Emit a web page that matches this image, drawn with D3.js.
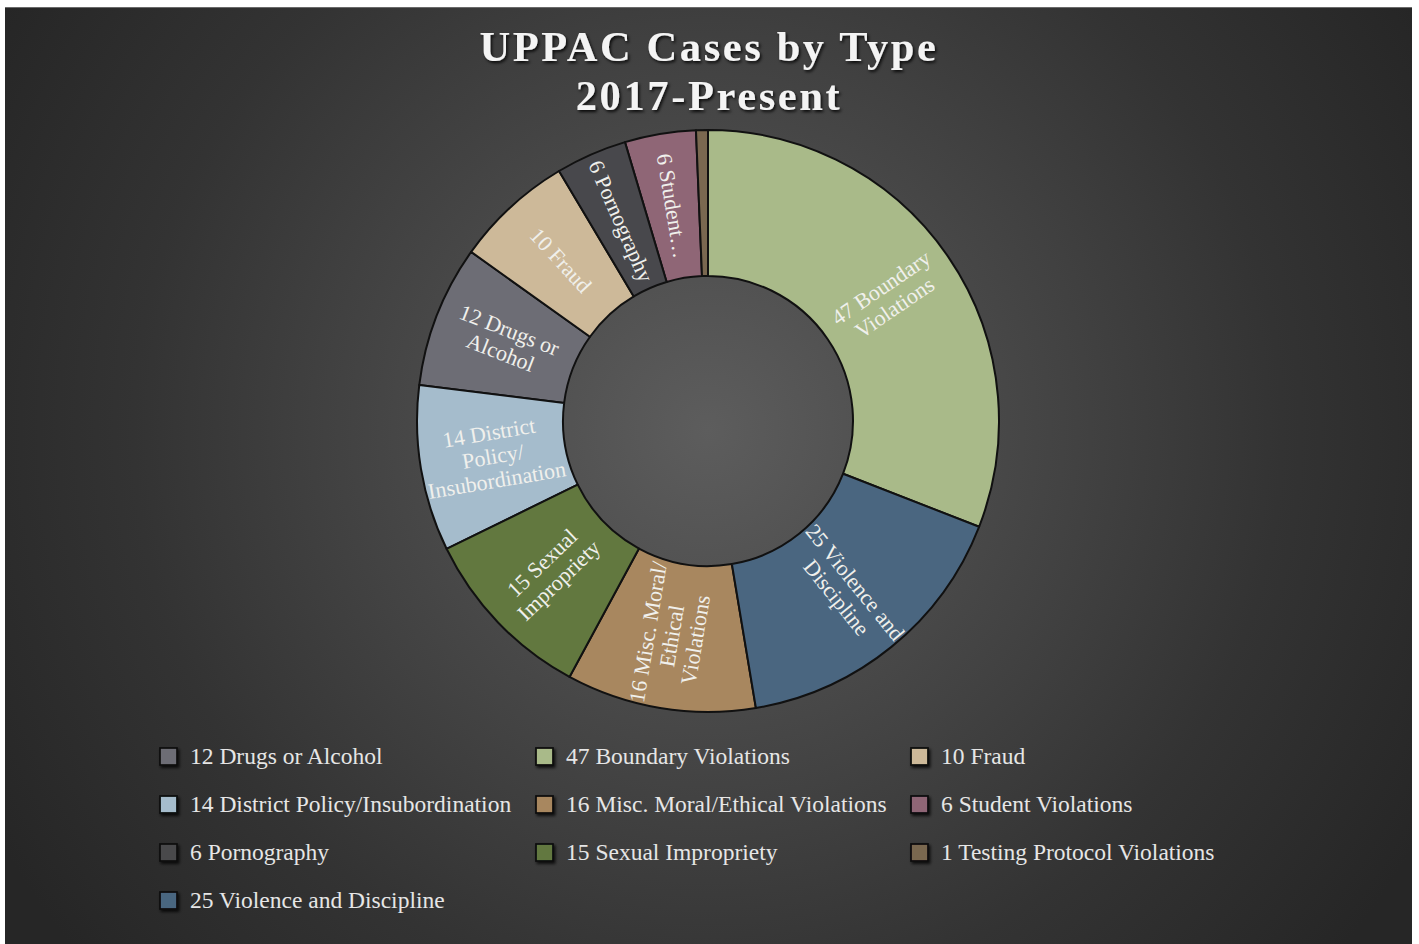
<!DOCTYPE html>
<html>
<head>
<meta charset="utf-8">
<script src="https://cdn.jsdelivr.net/npm/d3@7"></script>
<style>
  html, body { margin: 0; padding: 0; background: #ffffff; }
  svg { display: block; }
</style>
</head>
<body>
<svg id="chart" width="1419" height="944"></svg>
<script>
// ---- data (legend order, alphabetical) ----
const categories = [
  "Drugs or Alcohol",
  "Boundary Violations",
  "Fraud",
  "District Policy/Insubordination",
  "Misc. Moral/Ethical Violations",
  "Student Violations",
  "Pornography",
  "Sexual Impropriety",
  "Testing Protocol Violations",
  "Violence and Discipline"
];
const values = [12, 47, 10, 14, 16, 6, 6, 15, 1, 25];
const colors = [
  "#6d6d75", "#a9ba89", "#cdb999", "#a5bccc", "#a8875f",
  "#8f6676", "#48484c", "#62783f", "#7a6850", "#4a6680"
];
// wrapped in-slice labels (as shown inside the ring)
const sliceLabels = [
  ["12 Drugs or", "Alcohol"],
  ["47 Boundary", "Violations"],
  ["10 Fraud"],
  ["14 District", "Policy/", "Insubordination"],
  ["16 Misc. Moral/", "Ethical", "Violations"],
  ["6 Student…"],
  ["6 Pornography"],
  ["15 Sexual", "Impropriety"],
  [],
  ["25 Violence and", "Discipline"]
];
const titleLines = ["UPPAC Cases by Type", "2017-Present"];

const data = categories.map((c, i) => ({
  name: c, value: values[i], color: colors[i], lines: sliceLabels[i], idx: i
}));

const W = 1419, H = 944;
const svg = d3.select("#chart");
const defs = svg.append("defs");

// background gradient
const bg = defs.append("radialGradient").attr("id", "bg")
  .attr("gradientUnits", "userSpaceOnUse")
  .attr("cx", 708).attr("cy", 430).attr("r", 820);
bg.append("stop").attr("offset", 0).attr("stop-color", "#5d5d5d");
bg.append("stop").attr("offset", 0.3).attr("stop-color", "#4b4b4b");
bg.append("stop").attr("offset", 0.7).attr("stop-color", "#333333");
bg.append("stop").attr("offset", 1).attr("stop-color", "#262626");

const sh = defs.append("filter").attr("id", "shadow")
  .attr("x", "-50%").attr("y", "-50%").attr("width", "200%").attr("height", "200%");
sh.append("feDropShadow").attr("dx", 1.5).attr("dy", 2).attr("stdDeviation", 1.8)
  .attr("flood-color", "#000").attr("flood-opacity", 0.8);

const tsh = defs.append("filter").attr("id", "tshadow")
  .attr("x", "-10%").attr("y", "-30%").attr("width", "120%").attr("height", "160%");
tsh.append("feDropShadow").attr("dx", 1.5).attr("dy", 2).attr("stdDeviation", 1.5)
  .attr("flood-color", "#000").attr("flood-opacity", 0.85);

// chart area
svg.append("rect").attr("x", 5).attr("y", 7).attr("width", 1407).attr("height", H - 7)
  .attr("fill", "url(#bg)");
svg.append("line").attr("x1", 5).attr("x2", 1412).attr("y1", 7.5).attr("y2", 7.5)
  .attr("stroke", "#6a6a6a").attr("stroke-width", 1);

// title
const title = svg.append("text")
  .attr("text-anchor", "middle")
  .attr("font-family", "'Liberation Serif', 'DejaVu Serif', serif")
  .attr("font-weight", "bold")
  .attr("font-size", 42.5)
  .attr("letter-spacing", 2.6)
  .attr("fill", "#f4f4f4")
  .attr("filter", "url(#tshadow)");
titleLines.forEach((t, i) => {
  title.append("tspan").attr("x", 709).attr("y", 61 + i * 49).text(t);
});

// donut
const cx = 708, cy = 421, rOuter = 291, rInner = 145;
const pie = d3.pie()
  .value(d => d.value)
  .sort((a, b) => b.value - a.value || d3.ascending(a.name, b.name))
  .startAngle(0).endAngle(2 * Math.PI);
const arcs = pie(data);
const arc = d3.arc().innerRadius(rInner).outerRadius(rOuter);

const g = svg.append("g").attr("transform", `translate(${cx},${cy})`);
g.selectAll("path.slice").data(arcs).join("path")
  .attr("class", "slice")
  .attr("d", arc)
  .attr("fill", d => d.data.color)
  .attr("stroke", "#111")
  .attr("stroke-width", 2)
  .attr("stroke-linejoin", "round");

// slice labels
const rMid = (rInner + rOuter) / 2;
const lh = 24;
const lbl = g.selectAll("g.lbl").data(arcs.filter(d => d.data.lines.length)).join("g")
  .attr("class", "lbl")
  .attr("transform", d => {
    const a = (d.startAngle + d.endAngle) / 2;
    const x = Math.sin(a) * rMid, y = -Math.cos(a) * rMid;
    let r = a * 180 / Math.PI - 90;
    if (r > 90) r -= 180;
    return `translate(${x},${y}) rotate(${r})`;
  });
lbl.each(function (d) {
  const n = d.data.lines.length;
  const t = d3.select(this).append("text")
    .attr("text-anchor", "middle")
    .attr("font-family", "'Liberation Serif', 'DejaVu Serif', serif")
    .attr("font-size", 22)
    .attr("fill", "#f0f0ec");
  d.data.lines.forEach((s, i) => {
    t.append("tspan").attr("x", 0)
      .attr("y", (i - (n - 1) / 2) * lh + 7)
      .text(s);
  });
});

// legend
const colX = [160, 536, 911];
const rowY = [757, 805, 853, 901];
const leg = svg.append("g");
data.forEach((d, i) => {
  const x = colX[i % 3], y = rowY[Math.floor(i / 3)];
  leg.append("rect")
    .attr("x", x).attr("y", y - 9).attr("width", 17).attr("height", 17)
    .attr("fill", d.color).attr("stroke", "#111").attr("stroke-width", 1.8)
    .attr("filter", "url(#shadow)");
  leg.append("text")
    .attr("x", x + 30).attr("y", y + 7)
    .attr("font-family", "'Liberation Serif', 'DejaVu Serif', serif")
    .attr("font-size", 23.5)
    .attr("fill", "#e6e6e6")
    .text(d.value + " " + d.name);
});
</script>
</body>
</html>
